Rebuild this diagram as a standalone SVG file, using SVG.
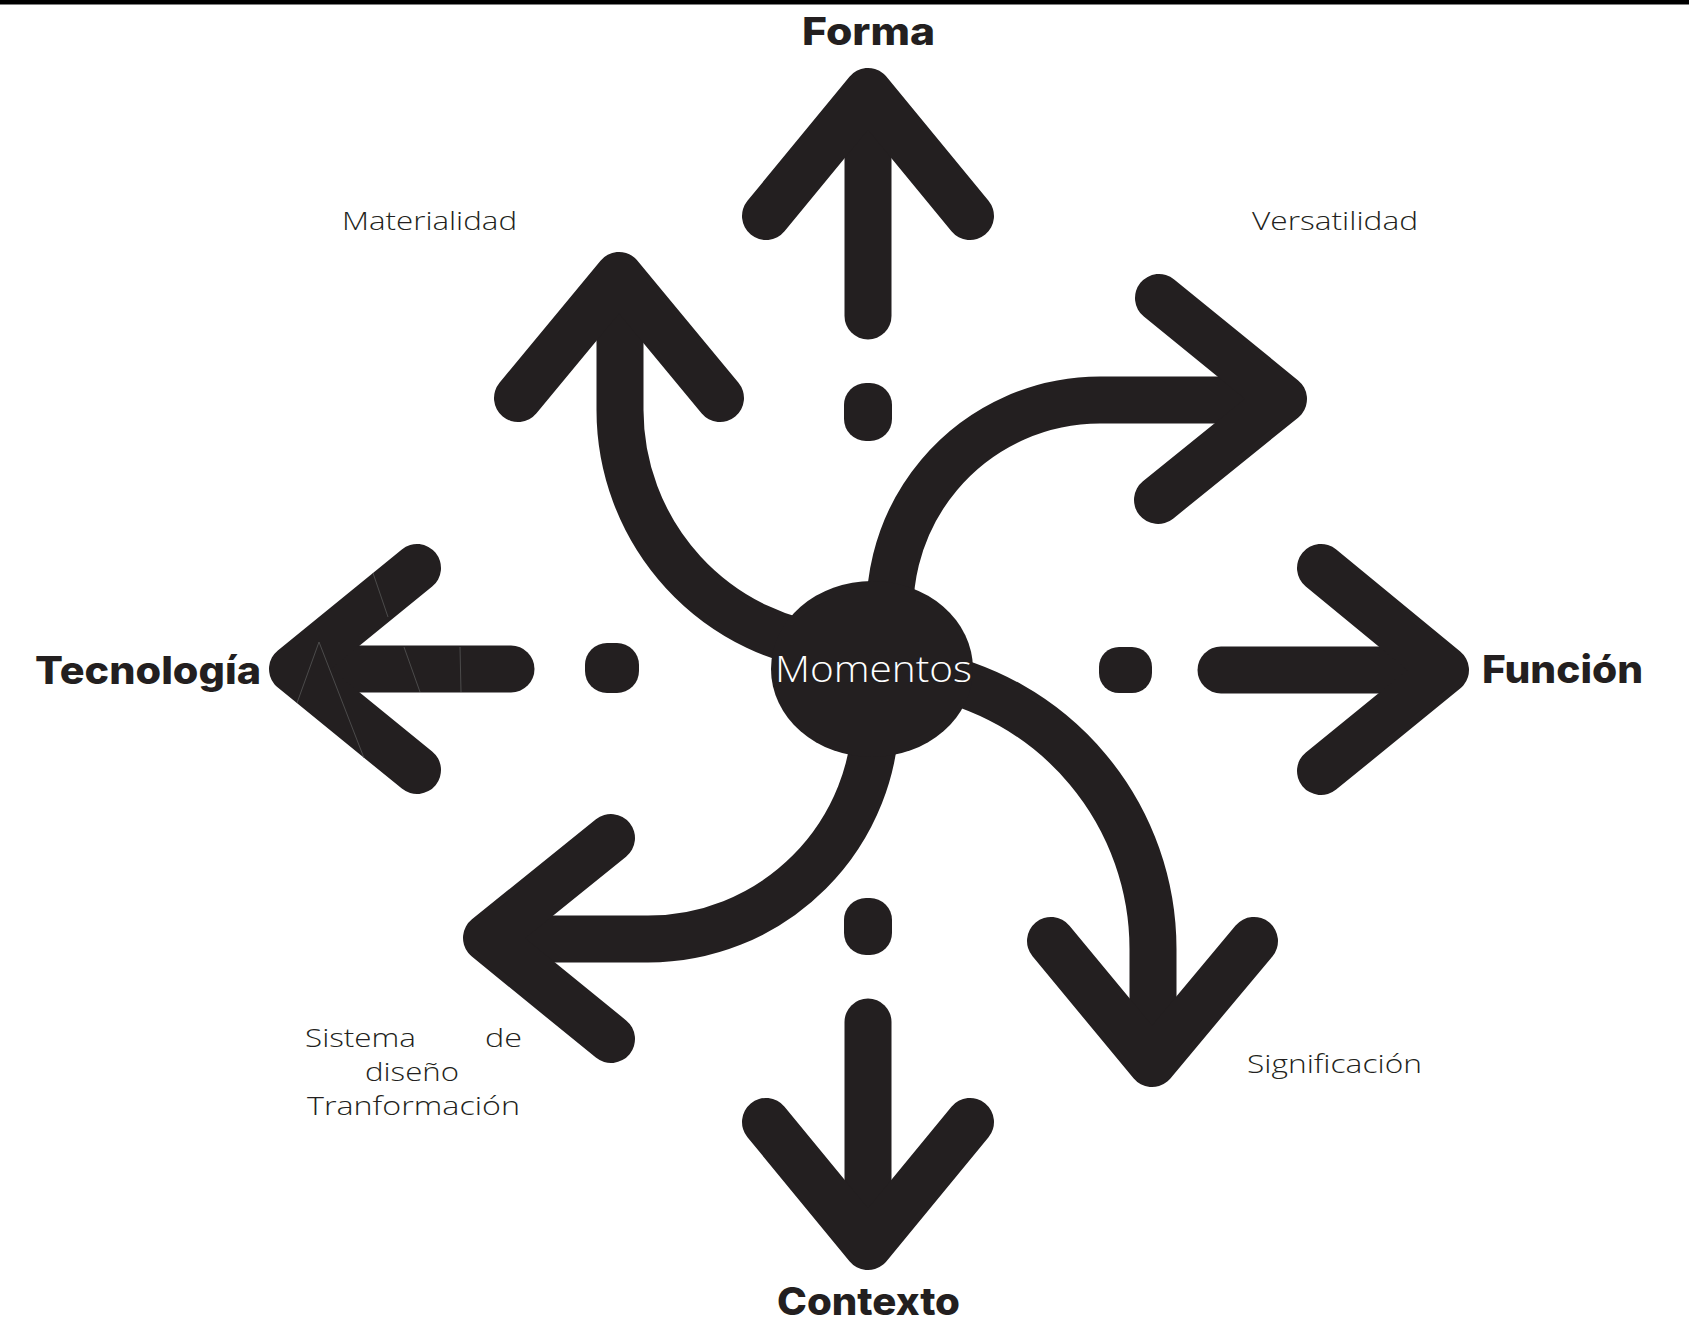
<svg xmlns="http://www.w3.org/2000/svg" width="1689" height="1321" viewBox="0 0 1689 1321">
  <style>
    .head{fill:none;stroke:#231f20;stroke-width:48;stroke-linecap:round;stroke-linejoin:round}
    .shaft{fill:none;stroke:#231f20;stroke-width:47;stroke-linecap:butt}
    .sshaft{fill:none;stroke:#231f20;stroke-width:47;stroke-linecap:round}
    .dot{fill:#231f20}
    .seam{fill:none;stroke:#555;stroke-width:0.8}
    .bold{font-family:Inter,"Liberation Sans",sans-serif;font-weight:800;font-size:38px;fill:#231f20}
    .light{font-family:"Open Sans",Lato,"Liberation Sans",sans-serif;font-weight:300;font-size:26px;fill:#231f20}
    .center{font-family:"Open Sans",Lato,"Liberation Sans",sans-serif;font-weight:300;font-size:37px;fill:#ffffff}
  </style>
  <rect x="0" y="0" width="1689" height="1321" fill="#ffffff"/>
  <rect x="0" y="0" width="1689" height="4.5" fill="#000000"/>

  <g id="connectors">
    <g id="arrow-forma">
      <line class="sshaft" x1="868" y1="316" x2="868" y2="100"/>
      <polyline class="head" points="766,216 868,92 970,216"/>
      <rect class="dot" x="844" y="383" width="48" height="58" rx="22"/>
    </g>
    <g id="arrow-contexto">
      <line class="sshaft" x1="868" y1="1022" x2="868" y2="1240"/>
      <polyline class="head" points="766,1122 868,1246 970,1122"/>
      <rect class="dot" x="844" y="898" width="48" height="57" rx="22"/>
    </g>
    <g id="arrow-funcion">
      <line class="sshaft" x1="1221" y1="670" x2="1440" y2="670"/>
      <polyline class="head" points="1321,568 1445,670 1321,771"/>
      <rect class="dot" x="1099" y="647" width="53" height="46" rx="20"/>
    </g>
    <g id="arrow-tecnologia">
      <line class="sshaft" x1="511" y1="669" x2="298" y2="669"/>
      <polyline class="head" points="417,568 293,669 417,770"/>
      <rect class="dot" x="585" y="643" width="54" height="50" rx="22"/>
      <path class="seam" d="M373 573 L388 617 M319 642 L297 703 M319 642 L364 758 M404 647 L420 692 M460 647 L461 692"/>
    </g>
    <g id="arrow-materialidad">
      <path class="shaft" d="M839 649 A240 240 0 0 1 620 410 L620 285"/>
      <polyline class="head" points="518,398 619,276 720,398"/>
    </g>
    <g id="arrow-versatilidad">
      <path class="shaft" d="M893 646 A210 210 0 0 1 1100 400 L1275 400"/>
      <polyline class="head" points="1159,298 1283,399 1158,500"/>
    </g>
    <g id="arrow-significacion">
      <path class="shaft" d="M921.6 673.3 A280 280 0 0 1 1153 949 L1153 1055"/>
      <polyline class="head" points="1051,941 1152,1063 1254,941"/>
    </g>
    <g id="arrow-sistema">
      <path class="shaft" d="M876 711 A228 228 0 0 1 648 939 L495 939"/>
      <polyline class="head" points="611,838 487,938 611,1039"/>
    </g>
  </g>

  <g id="node-momentos">
    <ellipse cx="872" cy="669" rx="101" ry="88" fill="#231f20"/>
    <text class="center" x="775" y="682" textLength="197" lengthAdjust="spacingAndGlyphs">Momentos</text>
  </g>

  <g id="node-forma"><text class="bold" x="802" y="45" textLength="133" lengthAdjust="spacingAndGlyphs">Forma</text></g>
  <g id="node-tecnologia"><text class="bold" x="35" y="684" textLength="226" lengthAdjust="spacingAndGlyphs">Tecnología</text></g>
  <g id="node-funcion"><text class="bold" x="1482" y="683" textLength="161" lengthAdjust="spacingAndGlyphs">Función</text></g>
  <g id="node-contexto"><text class="bold" x="777" y="1315" textLength="183" lengthAdjust="spacingAndGlyphs">Contexto</text></g>

  <g id="node-materialidad"><text class="light" x="342" y="230" textLength="175" lengthAdjust="spacingAndGlyphs">Materialidad</text></g>
  <g id="node-versatilidad"><text class="light" x="1252" y="230" textLength="166" lengthAdjust="spacingAndGlyphs">Versatilidad</text></g>
  <g id="node-significacion"><text class="light" x="1247" y="1073" textLength="175" lengthAdjust="spacingAndGlyphs">Significación</text></g>
  <g id="node-sistema">
    <text class="light" x="305" y="1047" textLength="111" lengthAdjust="spacingAndGlyphs">Sistema</text>
    <text class="light" x="485" y="1047" textLength="37" lengthAdjust="spacingAndGlyphs">de</text>
    <text class="light" x="365" y="1081" textLength="94" lengthAdjust="spacingAndGlyphs">diseño</text>
    <text class="light" x="307" y="1115" textLength="213" lengthAdjust="spacingAndGlyphs">Tranformación</text>
  </g>
</svg>
